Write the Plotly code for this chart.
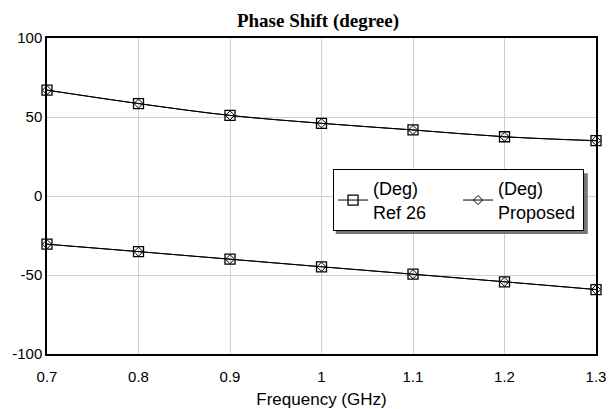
import plotly.graph_objects as go

freq = [0.7, 0.8, 0.9, 1.0, 1.1, 1.2, 1.3]
ref26_out1 = [67.0, 58.5, 51.0, 46.0, 41.8, 37.5, 35.0]
ref26_out2 = [-30.5, -35.2, -40.0, -44.8, -49.5, -54.3, -59.2]
prop_out1 = [67.0, 58.5, 51.0, 46.0, 41.8, 37.5, 35.0]
prop_out2 = [-30.5, -35.2, -40.0, -44.8, -49.5, -54.3, -59.2]
x_ticks = [0.7, 0.8, 0.9, 1.0, 1.1, 1.2, 1.3]
x_tick_text = ["0.7", "0.8", "0.9", "1", "1.1", "1.2", "1.3"]
y_ticks = [-100, -50, 0, 50, 100]
y_tick_text = ["-100", "-50", "0", "50", "100"]

fig = go.Figure()
line = dict(color="black", width=1, shape="spline")
sq = dict(symbol="square-open", size=10, color="black", line=dict(width=1.3, color="black"))
dm = dict(symbol="diamond-open", size=7, color="black", line=dict(width=1, color="black"))

fig.add_trace(go.Scatter(x=freq, y=ref26_out1, mode="lines+markers", line=line, marker=sq,
                         name="(Deg)<br>Ref 26", legendgroup="r", showlegend=True, cliponaxis=False))
fig.add_trace(go.Scatter(x=freq, y=ref26_out2, mode="lines+markers", line=line, marker=sq,
                         name="(Deg)<br>Ref 26", legendgroup="r", showlegend=False, cliponaxis=False))
fig.add_trace(go.Scatter(x=freq, y=prop_out1, mode="lines+markers", line=line, marker=dm,
                         name="(Deg)<br>Proposed", legendgroup="p", showlegend=True, cliponaxis=False))
fig.add_trace(go.Scatter(x=freq, y=prop_out2, mode="lines+markers", line=line, marker=dm,
                         name="(Deg)<br>Proposed", legendgroup="p", showlegend=False, cliponaxis=False))

fig.update_layout(
    width=608, height=409,
    margin=dict(l=47, r=12, t=38, b=55),
    paper_bgcolor="white", plot_bgcolor="white",
    title=dict(text="<b>Phase Shift (degree)</b>", x=0.523, xanchor="center", y=0.95, yanchor="middle",
               font=dict(family="Liberation Serif", size=19, color="black")),
    font=dict(family="Liberation Sans", size=15, color="black"),
    showlegend=True,
    legend=dict(orientation="h", x=0.521, y=0.585, xanchor="left", yanchor="top",
                bgcolor="white", bordercolor="black", borderwidth=1,
                font=dict(family="Liberation Sans", size=18, color="black"),
                entrywidth=80, itemwidth=30, tracegroupgap=0),
    shapes=[dict(type="rect", xref="paper", yref="paper",
                 x0=0.526, x1=0.985, y0=0.380, y1=0.572,
                 fillcolor="#555555", line=dict(width=0), layer="above", opacity=0.8)],
)
fig.update_xaxes(range=[0.7, 1.3], tickvals=x_ticks, ticktext=x_tick_text, automargin=False,
                 showgrid=True, gridcolor="#d0d0d0", gridwidth=1,
                 showline=True, linecolor="black", linewidth=1.5, mirror=True,
                 ticks="", zeroline=False, ticklabelstandoff=8,
                 title=dict(text="Frequency (GHz)", font=dict(size=17), standoff=10))
fig.update_yaxes(range=[-100, 100], tickvals=y_ticks, ticktext=y_tick_text, automargin=False,
                 showgrid=True, gridcolor="#d0d0d0", gridwidth=1,
                 showline=True, linecolor="black", linewidth=1.5, mirror=True,
                 ticks="", zeroline=False, ticklabelstandoff=0)

fig.write_html("out.html", config={"displayModeBar": False},
               post_script="document.body.style.margin='0';document.body.style.overflow='hidden';")
